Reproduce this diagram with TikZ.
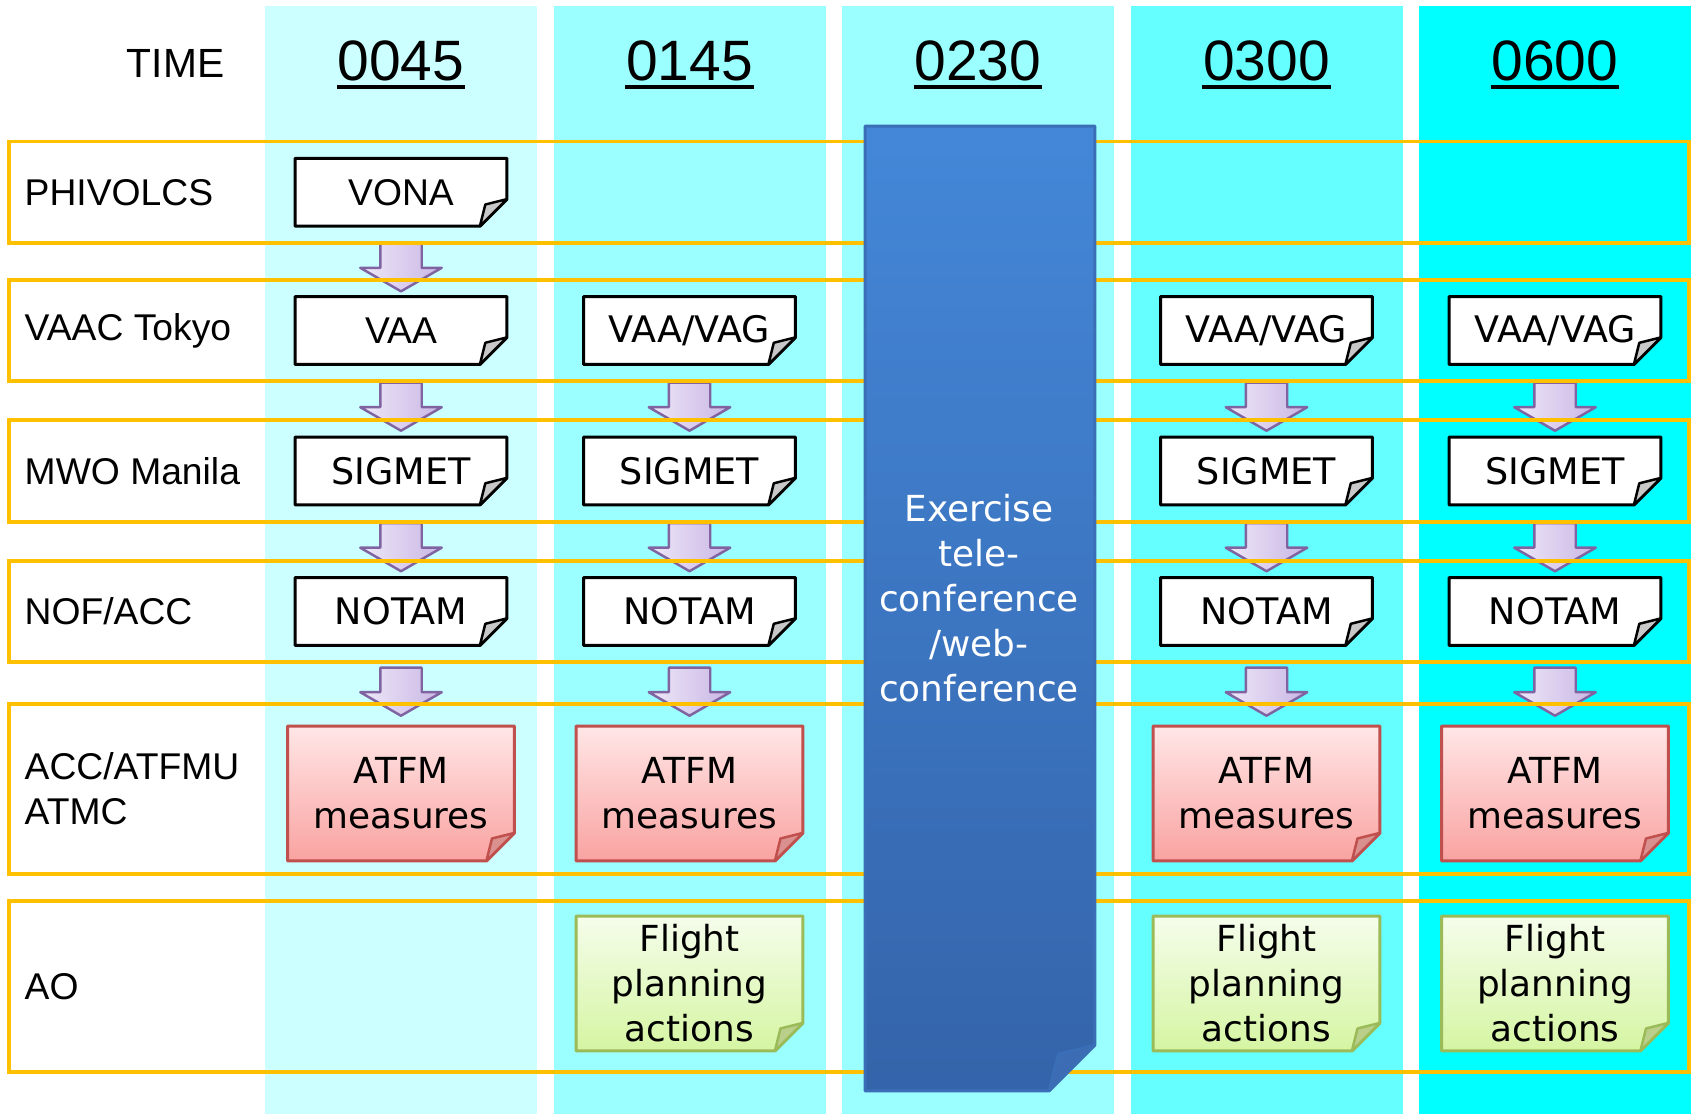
\documentclass[tikz,border=0pt]{standalone}
\usepackage{fontspec}
\setmainfont{Liberation Sans}
\newfontfamily\lucida{DejaVu Sans}
\usepackage{xcolor}
\usepackage{tikz}
\usetikzlibrary{calc,shapes.arrows}
\definecolor{band1}{HTML}{CCFFFF}
\definecolor{band2}{HTML}{9CFFFF}
\definecolor{band3}{HTML}{9CFFFF}
\definecolor{band4}{HTML}{66FFFF}
\definecolor{band5}{HTML}{00FFFF}
\definecolor{frame}{HTML}{FFC000}
\definecolor{foldgray}{HTML}{C8C8C8}
\definecolor{arrowtop}{HTML}{EEE8F8}
\definecolor{arrowbot}{HTML}{C9B6E4}
\definecolor{arrowline}{HTML}{8064A2}
\definecolor{redtop}{HTML}{FFE6E6}
\definecolor{redbot}{HTML}{F9A3A1}
\definecolor{redline}{HTML}{C0504D}
\definecolor{redfold}{HTML}{D9908E}
\definecolor{greentop}{HTML}{F5FDEB}
\definecolor{greenbot}{HTML}{D5F5A2}
\definecolor{greenline}{HTML}{9BBB59}
\definecolor{greenfold}{HTML}{B9CF8A}
\definecolor{bluetop}{HTML}{4487D8}
\definecolor{bluebot}{HTML}{3464AA}
\definecolor{blueline}{HTML}{3A6EB6}
\definecolor{bluefold}{HTML}{3C6DB4}
\tikzset{
  ear/.store in=\earsize, ear=0.27cm,
  paper/.style n args={4}{
    inner sep=0pt,
    path picture={
      \coordinate (pnw) at ([shift={(0.6pt,-0.6pt)}]path picture bounding box.north west);
      \coordinate (pse) at ([shift={(-0.6pt,0.6pt)}]path picture bounding box.south east);
      \shadedraw[top color=#1, bottom color=#2, draw=#3, line width=0.9pt, line join=round]
        (pnw) -- (pnw -| pse) -- ([yshift=\earsize]pse) -- ([xshift=-\earsize]pse)
        -- (pnw |- pse) -- cycle;
      \filldraw[fill=#4, draw=#3, line width=0.7pt, line join=round]
        ([xshift=-\earsize]pse) -- ([shift={(-0.8*\earsize,0.8*\earsize)}]pse)
        -- ([yshift=\earsize]pse) -- cycle;
    }
  },
  msg/.style={
    paper={white}{white}{black}{foldgray},
    minimum width=2.16cm, minimum height=0.72cm,
    font=\lucida\fontsize{10.4}{12.8}\selectfont
  },
  msgplain/.style={msg, font=\fontsize{10.6}{12.8}\selectfont},
  atfm/.style={
    paper={redtop}{redbot}{redline}{redfold}, ear=0.28cm,
    minimum width=2.31cm, minimum height=1.39cm, align=center,
    font=\lucida\fontsize{10.2}{12.8}\selectfont
  },
  flight/.style={
    paper={greentop}{greenbot}{greenline}{greenfold}, ear=0.28cm,
    minimum width=2.31cm, minimum height=1.39cm, align=center,
    font=\lucida\fontsize{10.2}{12.8}\selectfont
  },
  conf/.style={
    paper={bluetop}{bluebot}{blueline}{bluefold}, ear=0.46cm,
    minimum width=2.34cm, minimum height=9.69cm
  },
  conftext/.style={
    text=white, align=center, inner sep=0pt,
    font=\lucida\fontsize{10.2}{12.8}\selectfont
  },
  pointer/.style={
    single arrow, rotate=-90, inner xsep=0pt, inner ysep=0.195cm,
    minimum height=0.48cm, minimum width=0.79cm,
    single arrow head extend=0.2cm, single arrow tip angle=120,
    left color=arrowtop, right color=arrowbot,
    draw=arrowline, line width=0.7pt, line join=round
  },
  lane/.style={draw=frame, line width=1pt, inner sep=0pt, minimum width=16.80cm},
  rowlabel/.style={anchor=west, align=left, inner sep=0pt, font=\fontsize{10.6}{12.8}\selectfont},
  timelabel/.style={anchor=base, inner sep=0pt, font=\fontsize{16.2}{19}\selectfont}
}
\begin{document}
\begin{tikzpicture}
  \useasboundingbox (0,0) rectangle (16.94,11.14);

  % time bands
  \foreach \c in {1,...,5}
    \fill[band\c] ({4.01+2.885*(\c-1)-1.36},0) rectangle ({4.01+2.885*(\c-1)+1.36},11.08);

  \node[anchor=base east, inner sep=0pt, font=\fontsize{11.6}{14}\selectfont] (time) at (2.25,10.36) {TIME};
  \foreach \tm [count=\c] in {0045,0145,0230,0300,0600}{
    \node[timelabel] (time-\c) at ({4.01+2.885*(\c-1)},10.33) {\tm};
    \draw[line width=0.9pt] ([yshift=-0.06cm]time-\c.base west) -- ([yshift=-0.06cm]time-\c.base east);
  }

  % messages
  \node[msgplain] (vona) at (4.01,9.2175) {VONA};
  \node[msgplain] (vaa-1) at (4.01,7.835) {VAA};
  \node[msg] (sigmet-1) at (4.01,6.43) {SIGMET};
  \node[msg] (notam-1) at (4.01,5.025) {NOTAM};
  \node[atfm] (atfm-1) at (4.01,3.205) {ATFM\\measures};
  \foreach \c in {2,4,5}{
    \pgfmathsetmacro\x{4.01+2.885*(\c-1)}
    \node[msg] (vaa-\c) at (\x,7.835) {VAA/VAG};
    \node[msg] (sigmet-\c) at (\x,6.43) {SIGMET};
    \node[msg] (notam-\c) at (\x,5.025) {NOTAM};
    \node[atfm] (atfm-\c) at (\x,3.205) {ATFM\\measures};
    \node[flight] (flight-\c) at (\x,1.305) {Flight\\planning\\actions};
  }

  % hand-over arrows
  \path (vona.south) -- (vaa-1.north) node[pointer, midway] (push-0) {};
  \foreach \c in {1,2,4,5}{
    \path (vaa-\c.south) -- (sigmet-\c.north) node[pointer, midway] (push-a\c) {};
    \path (sigmet-\c.south) -- (notam-\c.north) node[pointer, midway] (push-b\c) {};
    \path (notam-\c.south) -- (atfm-\c.north) node[pointer, midway] (push-c\c) {};
  }

  % swim lanes
  \foreach \y/\h/\who [count=\r] in {9.2175/1.015/PHIVOLCS, 7.835/1.01/VAAC Tokyo,
      6.43/1.02/MWO Manila, 5.025/1.01/{NOF/ACC}, 3.25/1.70/{ACC/ATFMU\\ATMC}, 1.275/1.71/AO}{
    \node[lane, minimum height=\h cm] (lane-\r) at (8.488,\y) {};
    \node[rowlabel] (who-\r) at ([xshift=0.17cm]lane-\r.west) {\who};
  }

  % exercise block on top
  \node[conf] (exercise) at (9.80,5.055) {};
  \node[conftext] (exercise-text) at (9.79,5.16) {Exercise\\tele-\\conference\\/web-\\conference};
\end{tikzpicture}
\end{document}
